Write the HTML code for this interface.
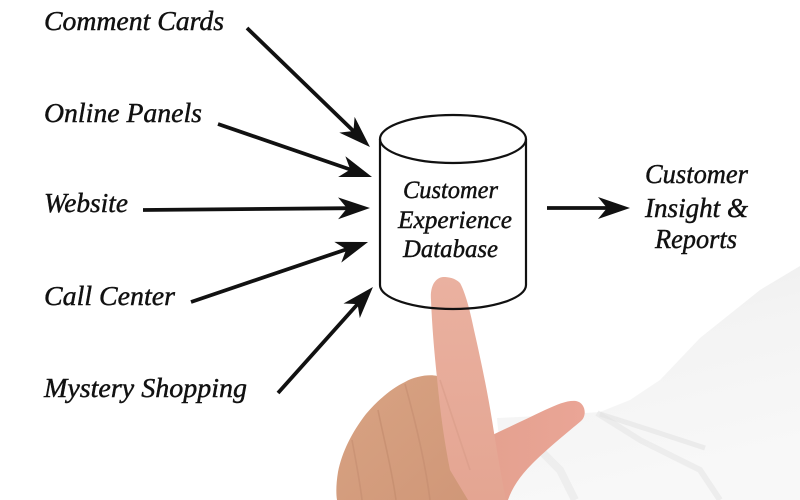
<!DOCTYPE html>
<html>
<head>
<meta charset="utf-8">
<style>
  html,body{margin:0;padding:0;background:#fff;}
  body{width:800px;height:500px;overflow:hidden;}
  svg{display:block;}
  text{font-family:"Liberation Serif","DejaVu Serif",serif;font-style:italic;fill:#111;stroke:#111;stroke-width:0.45;}
</style>
</head>
<body>
<svg width="800" height="500" viewBox="0 0 800 500" xmlns="http://www.w3.org/2000/svg">
  <defs>
    <marker id="ah" markerUnits="userSpaceOnUse" markerWidth="34" markerHeight="24" refX="12" refY="11" orient="auto" viewBox="0 0 34 24">
      <path d="M32,11 L0,0 L9,11 L0,22 Z" fill="#111"/>
    </marker>
    <linearGradient id="sleeve" x1="0" y1="0" x2="0.3" y2="1">
      <stop offset="0" stop-color="#ebebeb"/>
      <stop offset="0.4" stop-color="#f3f3f3"/>
      <stop offset="1" stop-color="#f8f8f8"/>
    </linearGradient>
    <linearGradient id="finger" x1="0" y1="0" x2="0" y2="1">
      <stop offset="0" stop-color="#eab1a0"/>
      <stop offset="1" stop-color="#e4a592"/>
    </linearGradient>
    <linearGradient id="knuck" x1="0" y1="0" x2="1" y2="1">
      <stop offset="0" stop-color="#d8a383"/>
      <stop offset="1" stop-color="#d09778"/>
    </linearGradient>
    <linearGradient id="thumb" x1="0" y1="0" x2="1" y2="0">
      <stop offset="0" stop-color="#e3a08e"/>
      <stop offset="1" stop-color="#eaa596"/>
    </linearGradient>
  </defs>

  <rect width="800" height="500" fill="#fff"/>

  <!-- sleeve -->
  <path d="M800,266 L760,290 L700,338 L660,380 L630,400 L600,412 L540,416 L497,418 L505,500 L800,500 Z" fill="url(#sleeve)"/>
  <path d="M597,413 L640,440 L700,470 L720,500" stroke="#e6e6e6" stroke-width="6" fill="none" opacity="0.6"/>
  <path d="M600,414 L650,430 L705,448" stroke="#e0e0e0" stroke-width="5" fill="none" opacity="0.5"/>
  <path d="M520,430 L560,470 L575,500" stroke="#e8e8e8" stroke-width="8" fill="none" opacity="0.6"/>

  <!-- hand: folded fingers -->
  <path d="M437,376 C430,374 415,376 405,382 C392,388 378,400 366,414 C352,432 342,452 338,472 C336,484 336,494 337,500 L470,500 L470,420 Z" fill="url(#knuck)"/>
  <path d="M378,410 C384,440 392,470 396,500" stroke="#c28a6d" stroke-width="1.6" fill="none" opacity="0.6"/>
  <path d="M352,440 C356,462 360,482 362,500" stroke="#c28a6d" stroke-width="1.6" fill="none" opacity="0.5"/>
  <path d="M405,384 C415,420 425,460 430,500" stroke="#c28a6d" stroke-width="1.6" fill="none" opacity="0.5"/>

  <!-- thumb -->
  <path d="M470,446 C490,436 520,422 545,410 C558,404 568,400 576,401 C586,403 587,416 581,421 C568,432 548,448 532,464 C520,476 512,488 508,500 L470,500 Z" fill="url(#thumb)"/>

  <!-- index finger -->
  <path d="M443,277 C434,278 430,288 431,300 C432,325 434,350 437,378 C440,410 444,440 450,470 L468,500 L506,500 C500,470 496,445 492,420 C488,395 482,365 474,330 C469,305 464,290 460,283 C455,278 449,277 443,277 Z" fill="url(#finger)"/>
  <path d="M440,380 C450,410 460,440 470,470" stroke="#d69a85" stroke-width="1.6" fill="none" opacity="0.5"/>

  <!-- cylinder -->
  <g fill="none" stroke="#111" stroke-width="2.2">
    <ellipse cx="453" cy="139" rx="73" ry="24"/>
    <path d="M380,139 L380,285 A73,24 0 0 0 526,285 L526,139"/>
  </g>

  <!-- arrows -->
  <g stroke="#111" stroke-width="3.8" fill="none" marker-end="url(#ah)">
    <line x1="247" y1="28" x2="355.6" y2="133.1"/>
    <line x1="218" y1="124" x2="353.1" y2="170.5"/>
    <line x1="143" y1="210" x2="350" y2="208.2"/>
    <line x1="191" y1="302" x2="349.1" y2="248.4"/>
    <line x1="278" y1="393" x2="359.6" y2="301.9"/>
    <line x1="547" y1="208" x2="610" y2="208"/>
  </g>

  <!-- left labels -->
  <g font-size="27">
    <text x="44" y="30" textLength="180" lengthAdjust="spacingAndGlyphs">Comment Cards</text>
    <text x="44" y="122" textLength="158" lengthAdjust="spacingAndGlyphs">Online Panels</text>
    <text x="44" y="212" textLength="84" lengthAdjust="spacingAndGlyphs">Website</text>
    <text x="44" y="305" textLength="131" lengthAdjust="spacingAndGlyphs">Call Center</text>
    <text x="44" y="397" textLength="203" lengthAdjust="spacingAndGlyphs">Mystery Shopping</text>
  </g>

  <!-- cylinder labels -->
  <g font-size="25">
    <text x="403" y="198" textLength="95" lengthAdjust="spacingAndGlyphs">Customer</text>
    <text x="398" y="228" textLength="114" lengthAdjust="spacingAndGlyphs">Experience</text>
    <text x="403" y="257" textLength="95" lengthAdjust="spacingAndGlyphs">Database</text>
  </g>

  <!-- right labels -->
  <g font-size="27">
    <text x="645" y="183" textLength="103" lengthAdjust="spacingAndGlyphs">Customer</text>
    <text x="645" y="217" textLength="103" lengthAdjust="spacingAndGlyphs">Insight &amp;</text>
    <text x="655" y="248" textLength="82" lengthAdjust="spacingAndGlyphs">Reports</text>
  </g>
</svg>
</body>
</html>
